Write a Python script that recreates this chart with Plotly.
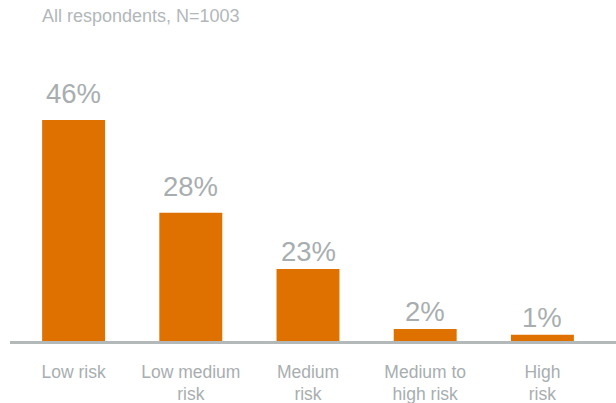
import plotly.graph_objects as go

# ---- data ----
categories = ["Low risk", "Low medium<br>risk", "Medium<br>risk", "Medium to<br>high risk", "High<br>risk"]
share_labels = ["46%", "28%", "23%", "2%", "1%"]
# bar lengths (relative to the 46% bar)
bar_values = [46, 26.7, 15.0, 2.5, 1.3]
subtitle = "All respondents, N=1003"

# ---- style ----
W, H = 616, 403
ml, mr, mt, mb = 15, 15, 60, 62
plot_h = H - mt - mb
orange = "#DF7100"
grey_text = "#A8AEB0"
grey_sub = "#B2B7B9"
line_grey = "#B3B8B8"
font_family = "Liberation Sans, Arial, Helvetica, sans-serif"
label_shift = [9, 9, 0, 0, 0]

fig = go.Figure()
fig.add_trace(go.Bar(
    x=categories, y=bar_values,
    marker=dict(color=orange, line=dict(width=0)),
    hoverinfo="skip",
))

for c, v, t, s in zip(categories, bar_values, share_labels, label_shift):
    fig.add_annotation(
        x=c, y=v, text=t, showarrow=False,
        xanchor="center", yanchor="bottom", yshift=s,
        font=dict(family=font_family, size=27.5, color=grey_text),
    )

# baseline
fig.add_shape(
    type="line", xref="paper", yref="paper",
    x0=(10 - ml) / (W - ml - mr), x1=(W + 5 - ml) / (W - ml - mr),
    y0=-1.5 / plot_h, y1=-1.5 / plot_h,
    line=dict(color=line_grey, width=3),
)

fig.update_layout(
    width=W, height=H,
    margin=dict(l=ml, r=mr, t=mt, b=mb, autoexpand=False),
    paper_bgcolor="white", plot_bgcolor="white",
    bargap=0.463,
    showlegend=False,
    title=dict(
        text=subtitle, xref="container", yref="container",
        x=42 / W, xanchor="left", y=1 - 9 / H, yanchor="top",
        font=dict(family=font_family, size=18, color=grey_sub),
    ),
    xaxis=dict(
        showgrid=False, zeroline=False, showline=False, ticks="",
        tickfont=dict(family=font_family, size=17.5, color=grey_text),
        ticklabelstandoff=18, automargin=False,
    ),
    yaxis=dict(
        range=[0, 46 * plot_h / 221], showgrid=False, zeroline=False,
        showline=False, showticklabels=False, ticks="", automargin=False,
    ),
)

fig.write_html("out.html")
